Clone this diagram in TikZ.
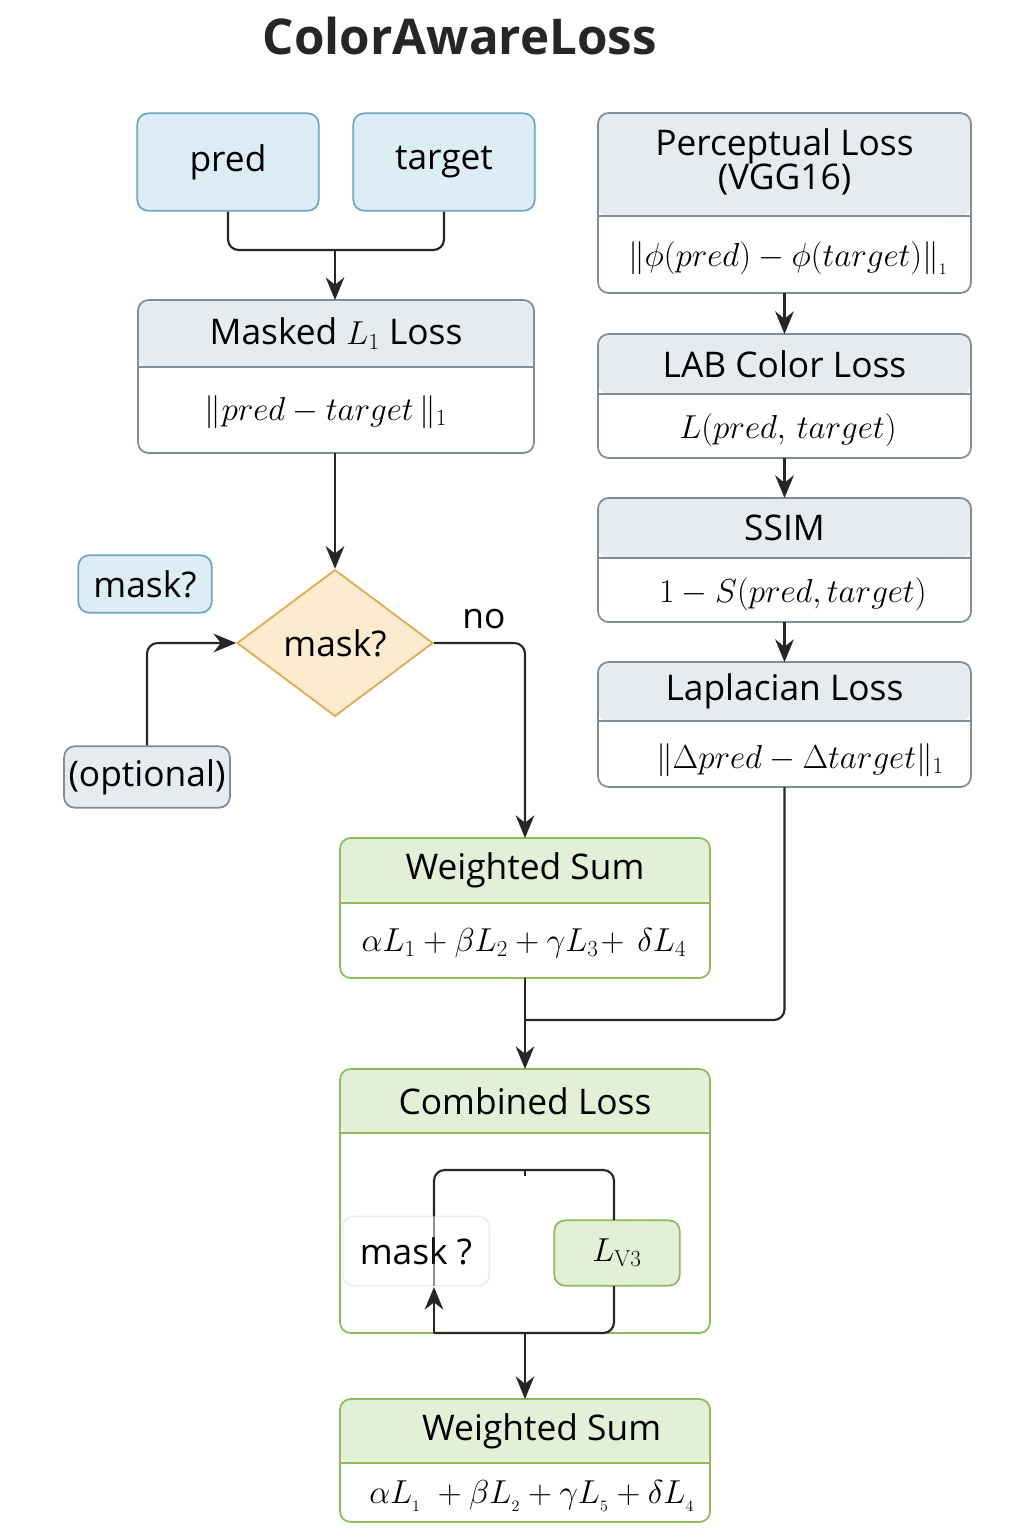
\documentclass[tikz,border=0pt]{standalone}
\usepackage{amsmath}
\usepackage[no-math]{fontspec}
\setmainfont{Open Sans}
\usetikzlibrary{shapes.geometric,arrows.meta}
\definecolor{bfill}{HTML}{DDEDF5}
\definecolor{bdraw}{HTML}{6FA8C0}
\definecolor{gfill}{HTML}{E6EBEF}
\definecolor{gdraw}{HTML}{7F8C99}
\definecolor{nfill}{HTML}{E3F0D8}
\definecolor{ndraw}{HTML}{8DBB5A}
\definecolor{dfill}{HTML}{FDEBD0}
\definecolor{ddraw}{HTML}{E0A84A}
\tikzset{
  lbl/.style={font=\fontsize{26.5}{30}\selectfont},
  frm/.style={font=\fontsize{26}{30}\selectfont},
  conn/.style={draw=black!85, line width=1.6pt, rounded corners=8pt},
  arr/.style={conn, -{Stealth[length=17pt,width=14pt]}},
}
\newcommand{\splitbx}[9]{%
  \fill[#8, rounded corners=8pt] (#2,#3) rectangle (#4,#6);
  \draw[#7, line width=1.3pt] (#2,#6) -- (#4,#6);
  \path[draw=#7, line width=1.3pt, rounded corners=8pt] (#2,#3) rectangle (#4,#5);
  \coordinate (#1-t) at ({(#2+#4)/2},#3);
  \coordinate (#1-b) at ({(#2+#4)/2},#5);
  \node[lbl] (#1-title) at ({(#2+#4)/2},{(#3+#6)/2}) {#9};
}
\begin{document}
\begin{tikzpicture}[x=0.75pt,y=-0.75pt]
\useasboundingbox (0,0) rectangle (1024,1536);
\node[font=\fontsize{37}{42}\selectfont\bfseries, text=black!85] (title) at (460,36) {ColorAwareLoss};

\node[draw=bdraw, fill=bfill, line width=1.3pt, rounded corners=8pt, minimum width=136pt, minimum height=73pt, lbl] (pred) at (228,162) {pred};
\node[draw=bdraw, fill=bfill, line width=1.3pt, rounded corners=8pt, minimum width=136pt, minimum height=73pt, lbl] (target) at (444,162) {target};

\splitbx{ml}{138}{300}{534}{453}{367}{gdraw}{gfill}{Masked $L_1$ Loss}
\node[frm] (mlf) at (326,412) {$\|pred-target\,\|_1$};

\splitbx{pl}{598}{113}{971}{293}{216}{gdraw}{gfill}{\begin{tabular}{c}Perceptual Loss\\[-4pt](VGG16)\end{tabular}}
\node[frm] (plf) at (788,258) {$\|\phi(pred)-\phi(target)\|_{{}_1}$};

\splitbx{lab}{598}{334}{971}{458}{394}{gdraw}{gfill}{LAB Color Loss}
\node[frm] (labf) at (788,430) {$L(pred,\,target)$};

\splitbx{ss}{598}{498}{971}{622}{558}{gdraw}{gfill}{SSIM}
\node[frm] (ssf) at (793,594) {$1-S(pred,target)$};

\splitbx{lp}{598}{662}{971}{787}{721}{gdraw}{gfill}{Laplacian Loss}
\node[frm] (lpf) at (800,760) {$\|\Delta pred-\Delta target\|_1$};

\splitbx{ws}{340}{838}{710}{978}{903}{ndraw}{nfill}{Weighted Sum}
\node[frm] (wsf) at (524,943) {$\alpha L_1+\beta L_2+\gamma L_3\!+\,\delta L_4$};

\splitbx{cl}{340}{1069}{710}{1333}{1133}{ndraw}{nfill}{Combined Loss}

\splitbx{ws2}{340}{1399}{710}{1522}{1463}{ndraw}{nfill}{\hspace{25pt}Weighted Sum}
\node[frm] (ws2f) at (532,1496) {$\alpha L_{{}_1}\;+\beta L_{{}_2}+\gamma L_{{}_5}+\delta L_{{}_4}$};

\node[draw=bdraw, fill=bfill, line width=1.3pt, rounded corners=8pt, minimum width=100pt, minimum height=43pt, lbl] (mk) at (145,584) {mask?};
\node[draw=gdraw, fill=gfill, line width=1.3pt, rounded corners=8pt, minimum width=123pt, minimum height=46pt, lbl] (opt) at (147,777) {(optional)};
\node[diamond, draw=ddraw, fill=dfill, line width=1.3pt, minimum width=147pt, minimum height=110pt, inner sep=0pt, lbl, aspect=1.34] (dm) at (335,643) {mask?};
\node[lbl] (no) at (484,619) {no};

% connectors
\coordinate (j1) at (335,250);
\draw[conn] (pred.south) |- (j1);
\draw[conn] (target.south) |- (j1);
\draw[arr] (j1) -- (335,300);
\draw[arr] (335,453) -- (dm.north);
\draw[arr] (opt.north) |- (dm.west);
\draw[arr] (dm.east) -| (ws-t);
\draw[arr] (pl-b) -- (lab-t);
\draw[arr] (lab-b) -- (ss-t);
\draw[arr] (ss-b) -- (lp-t);
\coordinate (j2) at (525,1020);
\draw[conn] (lp-b) |- (j2);
\draw[arr] (ws-b) -- (cl-t);

% inner loop
\node[draw=black!8, fill=white, fill opacity=0.75, text opacity=1, line width=1pt, rounded corners=8pt, minimum width=110pt, minimum height=52pt, lbl] (mq) at (416,1251) {mask ?};
\node[draw=ndraw, fill=nfill, line width=1.3pt, rounded corners=8pt, minimum width=94pt, minimum height=49pt, frm] (lv) at (617,1253) {$L_{\mathrm{V3}}$};
\coordinate (lt) at (434,1170);
\coordinate (rt) at (614,1170);
\coordinate (lb) at (434,1333);
\coordinate (rb) at (614,1333);
\coordinate (mb) at (525,1333);
\draw[black!85, line width=1.4pt, opacity=0.5] (434,1216) -- (434,1286);
\draw[conn] (434,1216) -- (lt) -- (rt) -- (614,1220);
\draw[line width=1.4pt, black!85] (525,1170) -- (525,1176);
\draw[conn] (614,1286) -- (rb) -- (lb);
\draw[arr] (lb) -- (434,1287);
\draw[arr] (mb) -- (ws2-t);
\end{tikzpicture}
\end{document}
